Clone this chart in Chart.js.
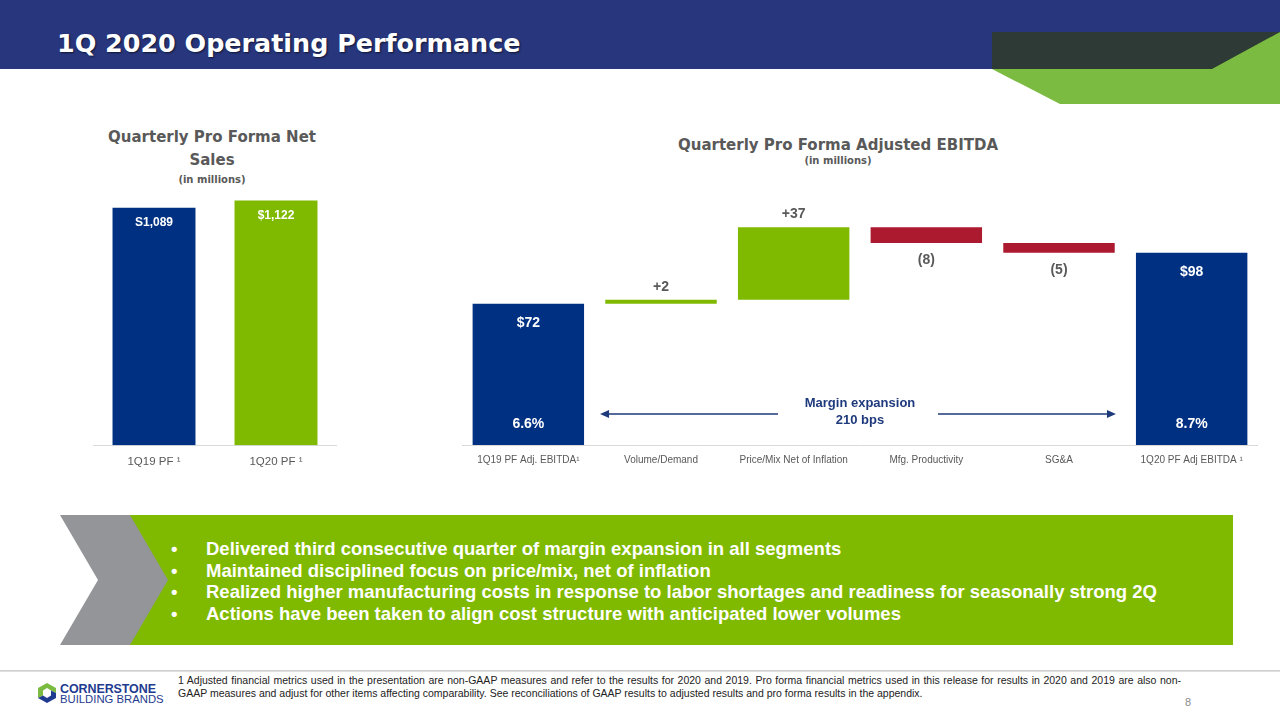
<!DOCTYPE html>
<html>
<head>
<meta charset="utf-8">
<script src="https://cdn.jsdelivr.net/npm/chart.js@4.4.1/dist/chart.umd.min.js"></script>
<style>
  body { margin: 0; width: 1280px; height: 720px; overflow: hidden; background: #fff; position: relative; font-family: "Liberation Sans", Arial, sans-serif; }
  .abs { position: absolute; }
  #band { left: 0; top: 0; width: 1280px; height: 69px; background: #28367d; }
  #title { left: 57px; top: 28px; color: #fff; font: bold 25.4px "DejaVu Sans", sans-serif; text-shadow: 1px 1px 2px rgba(0,0,0,0.6); white-space: nowrap; }
  .ctitle { color: #595959; font-family: "DejaVu Sans", sans-serif; font-weight: bold; text-align: center; }
  .ctitle .big { font-size: 15px; line-height: 23px; }
  .ctitle .small { font-size: 10px; line-height: 16px; }
  #box { left: 130px; top: 515px; width: 1103px; height: 130px; background: #7fba00; }
  #bullets { left: 171px; top: 538px; color: #fff; font-weight: bold; font-size: 18.5px; line-height: 21.7px; }
  #bullets div { white-space: nowrap; }
  #bullets span { display: inline-block; width: 35px; }
  #rule { left: 0; top: 670px; width: 1280px; height: 2px; background: linear-gradient(#c8c8c8, #e6e6e6); }
  #foot { left: 178px; top: 674px; width: 1003px; font-size: 10.5px; line-height: 13px; color: #222; }
  #foot .l1 { text-align: justify; text-align-last: justify; white-space: nowrap; }
  #page { left: 1185px; top: 696px; font-size: 11px; color: #8c8c8c; }
  #logo1 { left: 60px; top: 682px; font-weight: bold; font-size: 12.5px; color: #1f3b8f; letter-spacing: -0.1px; }
  #logo2 { left: 60px; top: 693px; font-size: 11.3px; color: #1f3b8f; }
</style>
</head>
<body>
<div id="band" class="abs"></div>
<svg class="abs" style="left:0;top:0" width="1280" height="110">
  <polygon points="992,69 1060,104 1280,104 1280,32" fill="#7cbb42"/>
  <polygon points="992,32 1280,32 1212,69 992,69" fill="#2d3a36"/>
</svg>
<div id="title" class="abs">1Q 2020 Operating Performance</div>

<div class="abs ctitle" style="left:90px;top:126px;width:244px">
  <div class="big">Quarterly Pro Forma Net<br>Sales</div>
  <div class="small">(in millions)</div>
</div>
<div class="abs ctitle" style="left:600px;top:135px;width:476px">
  <div class="big" style="line-height:20px">Quarterly Pro Forma Adjusted EBITDA</div>
  <div class="small" style="line-height:12px">(in millions)</div>
</div>

<canvas id="sales" class="abs" style="left:93px;top:190px"></canvas>
<canvas id="ebitda" class="abs" style="left:462px;top:190px"></canvas>

<div id="box" class="abs"></div>
<svg class="abs" style="left:0;top:500px" width="240" height="160">
  <polygon points="60,15 130,15 168,80 130,145 60,145 98,80" fill="#939598"/>
</svg>
<div id="bullets" class="abs">
  <div><span>•</span>Delivered third consecutive quarter of margin expansion in all segments</div>
  <div><span>•</span>Maintained disciplined focus on price/mix, net of inflation</div>
  <div><span>•</span>Realized higher manufacturing costs in response to labor shortages and readiness for seasonally strong 2Q</div>
  <div><span>•</span>Actions have been taken to align cost structure with anticipated lower volumes</div>
</div>

<div id="rule" class="abs"></div>
<svg class="abs" style="left:36px;top:682px" width="24" height="24">
  <polygon points="11,1 20,6 20,11 15,8.5 11,6 7,8.5 7,13.5 2,16 2,6" fill="#7cbb42"/>
  <polygon points="2,16 7,13.5 11,16 15,13.5 15,8.5 20,11 20,16 11,21" fill="#1f3b8f"/>
</svg>
<div id="logo1" class="abs">CORNERSTONE</div>
<div id="logo2" class="abs">BUILDING BRANDS</div>
<div id="foot" class="abs">
  <div class="l1">1 Adjusted financial metrics used in the presentation are non-GAAP measures and refer to the results for 2020 and 2019. Pro forma financial metrics used in this release for results in 2020 and 2019 are also non-</div>
  <div>GAAP measures and adjust for other items affecting comparability. See reconciliations of GAAP results to adjusted results and pro forma results in the appendix.</div>
</div>
<div id="page" class="abs">8</div>

<script>
// Net sales chart
const salesCategories = ['1Q19 PF ¹', '1Q20 PF ¹'];
const salesValues = [1089, 1122];
const salesLabels = ['S1,089', '$1,122'];

// EBITDA bridge
const bridgeCategories = ['1Q19 PF Adj. EBITDA¹', 'Volume/Demand', 'Price/Mix Net of Inflation', 'Mfg. Productivity', 'SG&A', '1Q20 PF Adj EBITDA ¹'];
const bridgeDeltas = [72, 2, 37, -8, -5, 98];   // first and last are totals
const bridgeLabels = ['$72', '+2', '+37', '(8)', '(5)', '$98'];
const marginLabels = ['6.6%', '8.7%'];
const marginText = ['Margin expansion', '210 bps'];

const BLUE = '#003082', GREEN = '#7fba00', RED = '#ac1a2f', GREY = '#595959', NAVY = '#1f3a7c';

// build floating ranges for the bridge
const bridgeRanges = [];
let running = 0;
bridgeDeltas.forEach((d, i) => {
  if (i === 0 || i === bridgeDeltas.length - 1) { bridgeRanges.push([0, d]); running = d; }
  else { bridgeRanges.push([running, running + d]); running += d; }
});
const bridgeColors = bridgeDeltas.map((d, i) => (i === 0 || i === bridgeDeltas.length - 1) ? BLUE : (d > 0 ? GREEN : RED));

Chart.defaults.font.family = '"Liberation Sans", Arial, sans-serif';
Chart.defaults.animation = false;

function sizeCanvas(id, w, h) {
  const c = document.getElementById(id);
  c.width = w; c.height = h; c.style.width = w + 'px'; c.style.height = h + 'px';
  return c;
}

const salesLabelPlugin = {
  id: 'salesLabels',
  afterDatasetsDraw(chart) {
    const ctx = chart.ctx;
    chart.getDatasetMeta(0).data.forEach((bar, i) => {
      ctx.save();
      ctx.fillStyle = '#fff';
      ctx.font = 'bold 12px "Liberation Sans", Arial';
      ctx.textAlign = 'center';
      ctx.textBaseline = 'middle';
      ctx.fillText(salesLabels[i], bar.x, bar.y + 15);
      ctx.restore();
    });
  }
};

new Chart(sizeCanvas('sales', 244, 289), {
  type: 'bar',
  data: {
    labels: salesCategories,
    datasets: [{ data: salesValues, backgroundColor: [BLUE, GREEN], barPercentage: 0.68, categoryPercentage: 1 }]
  },
  options: {
    responsive: false,
    plugins: { legend: { display: false }, tooltip: { enabled: false } },
    layout: { padding: 0 },
    scales: {
      x: {
        grid: { display: false, drawTicks: false },
        border: { color: '#d9d9d9' },
        ticks: { color: GREY, font: { size: 11.5 }, padding: 10 }
      },
      y: { display: false, min: 0, max: 1170 }
    }
  },
  plugins: [salesLabelPlugin]
});

const bridgeLabelPlugin = {
  id: 'bridgeLabels',
  afterDatasetsDraw(chart) {
    const ctx = chart.ctx;
    const bars = chart.getDatasetMeta(0).data;
    const last = bars.length - 1;
    const y = chart.scales.y;
    const base = y.getPixelForValue(0);
    ctx.save();
    ctx.textAlign = 'center';
    ctx.textBaseline = 'middle';
    bars.forEach((bar, i) => {
      const top = Math.min(bar.y, bar.base), bottom = Math.max(bar.y, bar.base);
      ctx.font = 'bold 14px "Liberation Sans", Arial';
      if (i === 0 || i === last) {
        ctx.fillStyle = '#fff';
        ctx.fillText(bridgeLabels[i], bar.x, top + 19);
        ctx.fillText(marginLabels[i === 0 ? 0 : 1], bar.x, base - 21);
      } else if (bridgeDeltas[i] > 0) {
        ctx.fillStyle = GREY;
        ctx.fillText(bridgeLabels[i], bar.x, top - 13);
      } else {
        ctx.fillStyle = GREY;
        ctx.fillText(bridgeLabels[i], bar.x, bottom + 17);
      }
    });
    // margin expansion annotation
    const midX = (bars[2].x + bars[3].x) / 2;
    const ay = base - 31;
    ctx.fillStyle = NAVY;
    ctx.font = 'bold 13px "Liberation Sans", Arial';
    ctx.fillText(marginText[0], midX, base - 42);
    ctx.fillText(marginText[1], midX, base - 25);
    const x0 = bars[0].x + bars[0].width / 2 + 16;
    const x1 = midX - 82;
    const x2 = midX + 78;
    const x3 = bars[last].x - bars[last].width / 2 - 20;
    ctx.strokeStyle = NAVY;
    ctx.lineWidth = 1.6;
    ctx.beginPath();
    ctx.moveTo(x0 + 6, ay); ctx.lineTo(x1, ay);
    ctx.moveTo(x2, ay); ctx.lineTo(x3 - 6, ay);
    ctx.stroke();
    ctx.beginPath();
    ctx.moveTo(x0, ay); ctx.lineTo(x0 + 9, ay - 4); ctx.lineTo(x0 + 9, ay + 4); ctx.closePath();
    ctx.moveTo(x3, ay); ctx.lineTo(x3 - 9, ay - 4); ctx.lineTo(x3 - 9, ay + 4); ctx.closePath();
    ctx.fill();
    ctx.restore();
  }
};

new Chart(sizeCanvas('ebitda', 796, 285), {
  type: 'bar',
  data: {
    labels: bridgeCategories,
    datasets: [{ data: bridgeRanges, backgroundColor: bridgeColors, barPercentage: 0.84, categoryPercentage: 1 }]
  },
  options: {
    responsive: false,
    plugins: { legend: { display: false }, tooltip: { enabled: false } },
    layout: { padding: 0 },
    scales: {
      x: {
        grid: { display: false, drawTicks: false },
        border: { color: '#d9d9d9' },
        ticks: { color: GREY, font: { size: 10 }, padding: 9, maxRotation: 0, autoSkip: false }
      },
      y: { display: false, min: 0, max: 130 }
    }
  },
  plugins: [bridgeLabelPlugin]
});
</script>
</body>
</html>
